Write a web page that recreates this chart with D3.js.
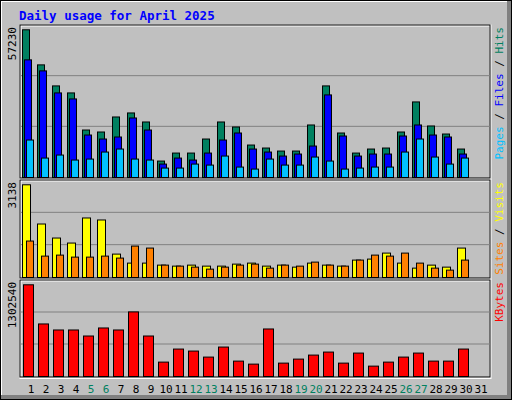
<!DOCTYPE html>
<html><head><meta charset="utf-8">
<script src="https://cdn.jsdelivr.net/npm/d3@7"></script>
<style>body{margin:0;background:#fff}svg{display:block}</style>
</head><body>
<svg id="chart" width="512" height="400"></svg>
<script>
const days = d3.range(1, 32);
const weekend = [5, 6, 12, 13, 19, 20, 26, 27];
const hits  = [57230,43640,35490,32770,18400,17630,23450,25010,21510,6370,9470,9470,14910,21510,19570,12580,11420,10250,10250,20350,35490,17240,9470,11030,11420,17630,29280,19960,16850,11030,0];
const files = [45580,41310,32770,30440,16460,14910,15690,23060,18400,5200,7530,6760,9470,14520,17240,11030,9860,8310,9090,12190,32000,16080,8310,9090,9090,16080,20350,16460,15690,9090,0];
const pages = [14520,7530,8700,6760,7140,9860,11030,7140,6760,3650,3650,5200,4810,8310,4040,3260,7140,4810,4810,7920,6370,3260,3650,4040,4040,9860,14910,7920,5200,7530,0];
const visits = [3138,1811,1336,1166,2015,1947,792,487,487,419,385,419,385,385,453,487,385,419,351,487,419,385,589,623,826,487,317,419,351,996,0];
const sites  = [1234,724,758,690,690,724,657,1064,996,419,385,351,283,351,419,453,317,419,385,521,419,385,589,758,724,826,487,317,249,589,0];
const kbytes = [1302540,746350,660780,660780,575200,689300,660780,917480,575200,204410,389810,361290,275720,418330,218670,175890,675040,190150,247200,304240,347030,190150,332770,147370,204410,275720,332770,218670,218670,389810,0];

const svg = d3.select('#chart');
const font = 'DejaVu Sans Mono, monospace';

// frame
svg.append('rect').attr('width', 512).attr('height', 400).attr('fill', '#808080');
svg.append('rect').attr('width', 507).attr('height', 395).attr('fill', '#fff');
svg.append('rect').attr('x', 2).attr('y', 2).attr('width', 505).attr('height', 393).attr('fill', '#C0C0C0');
svg.append('rect').attr('x', 0.5).attr('y', 0.5).attr('width', 511).attr('height', 399).attr('fill', 'none').attr('stroke', '#000');

svg.append('text').attr('x', 19).attr('y', 20).text('Daily usage for April 2025')
  .attr('font-family', font).attr('font-weight', 'bold').attr('font-size', 12.5).attr('fill', '#0000FF');

const x = d3.scaleBand().domain(days).range([22, 487]);

function panel(top, bottom, maxTop, maxVal, label, series, legend) {
  const y = d3.scaleLinear().domain([0, maxVal]).range([bottom, maxTop]);
  const g = svg.append('g');
  g.append('rect').attr('x', 20.5).attr('y', top + 0.5).attr('width', 470).attr('height', bottom - top + 1.5)
    .attr('fill', 'none').attr('stroke', '#fff').attr('stroke-width', 2);
  g.append('rect').attr('x', 20).attr('y', top).attr('width', 470).attr('height', bottom - top + 1)
    .attr('fill', 'none').attr('stroke', '#000');
  const h = bottom - top;
  [1 / 3, 2 / 3].forEach(f => g.append('line').attr('x1', 21).attr('x2', 490)
    .attr('y1', top + h * f).attr('y2', top + h * f).attr('stroke', '#808080'));
  series.forEach(s => {
    g.selectAll(null).data(days.filter((d, i) => s.vals[i] > 0)).join('rect')
      .attr('x', d => x(d) + s.off + 0.5)
      .attr('y', d => y(s.vals[d - 1]) + 0.5)
      .attr('width', s.w)
      .attr('height', d => bottom - y(s.vals[d - 1]))
      .attr('fill', s.color).attr('stroke', '#000');
  });
  g.append('text').attr('transform', `translate(16,${top + 2}) rotate(-90)`)
    .attr('text-anchor', 'end').attr('font-family', font).attr('font-size', 11).text(label);
  const t = g.append('text').attr('transform', `translate(503,${top + 2}) rotate(-90)`)
    .attr('text-anchor', 'end').attr('font-family', font).attr('font-size', 11);
  legend.forEach(l => t.append('tspan').attr('fill', l[1]).text(l[0]));
}

panel(25, 177, 29.3, 57230, '57230', [
  {vals: hits, color: '#008060', off: 0, w: 7},
  {vals: files, color: '#0000FF', off: 2, w: 7},
  {vals: pages, color: '#00C0FF', off: 4, w: 7}
], [['Pages', '#00C0FF'], [' / ', '#000'], ['Files', '#0000FF'], [' / ', '#000'], ['Hits', '#008060']]);

panel(180, 277, 184.3, 3138, '3138', [
  {vals: visits, color: '#FFFF00', off: 0, w: 8},
  {vals: sites, color: '#FF8000', off: 4, w: 7}
], [['Sites', '#FF8000'], [' / ', '#000'], ['Visits', '#FFFF00']]);

panel(280, 376, 284.3, 1302540, '1302540', [
  {vals: kbytes, color: '#FF0000', off: 1, w: 10}
], [['KBytes', '#FF0000']]);

svg.append('g').selectAll('text').data(days).join('text')
  .attr('x', d => x(d) + 9).attr('y', 393).attr('text-anchor', 'middle')
  .attr('font-family', font).attr('font-size', 11)
  .attr('fill', d => weekend.includes(d) ? '#008060' : '#000')
  .text(d => d);
</script>
</body></html>
